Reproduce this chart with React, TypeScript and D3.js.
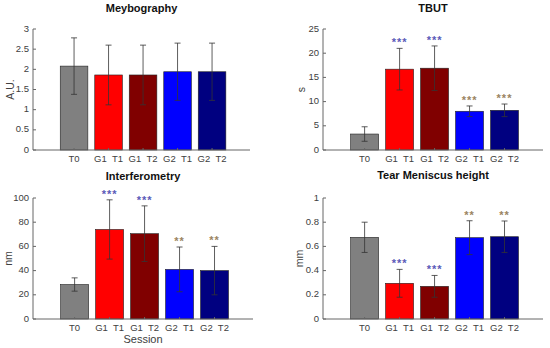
import React from "react";
import * as d3 from "d3";

const categories = ["T0", "G1  T1", "G1  T2", "G2  T1", "G2  T2"];
const barColors = ["#808080", "#ff0000", "#800000", "#0000ff", "#000080"];

const meyMean = [2.08, 1.86, 1.86, 1.94, 1.94];
const meyErr = [0.7, 0.74, 0.74, 0.71, 0.71];
const meyStars = ["", "", "", "", ""];

const tbutMean = [3.3, 16.7, 16.9, 8.0, 8.2];
const tbutErr = [1.5, 4.3, 4.6, 1.1, 1.3];
const tbutStars = ["", "***", "***", "***", "***"];

const interMean = [28.5, 74, 70.5, 41, 40];
const interErr = [5.5, 24.5, 23, 18.5, 20];
const interStars = ["", "***", "***", "**", "**"];

const tearMean = [0.675, 0.295, 0.27, 0.672, 0.68];
const tearErr = [0.125, 0.115, 0.09, 0.14, 0.13];
const tearStars = ["", "***", "***", "**", "**"];

const meyTicks = [0, 0.5, 1, 1.5, 2, 2.5, 3];
const tbutTicks = [0, 5, 10, 15, 20, 25];
const interTicks = [0, 20, 40, 60, 80, 100];
const tearTicks = [0, 0.2, 0.4, 0.6, 0.8, 1];

const starColors = ["", "#5a5ab8", "#5a5ab8", "#9a8462", "#9a8462"];

type PanelProps = {
  title: string;
  ylabel: string;
  mean: number[];
  err: number[];
  stars: string[];
  ticks: number[];
  ymax: number;
  left: number;
  width: number;
  top: number;
  bottom: number;
  titleY: number;
  ylabelX: number;
  xlabel?: string;
};

const font = "'Liberation Sans', Arial, Helvetica, sans-serif";

function Panel(p: PanelProps) {
  const x = d3.scaleLinear().domain([-0.19, 6.1]).range([p.left, p.left + p.width]);
  const y = d3.scaleLinear().domain([0, p.ymax]).range([p.bottom, p.top]);
  const bw = x(0.8) - x(0);
  const cap = 3;
  const axisColor = "#666";
  const textColor = "#404040";
  return (
    <g>
      <text
        x={(p.left + p.left + p.width) / 2}
        y={p.titleY}
        textAnchor="middle"
        dominantBaseline="middle"
        fontFamily={font}
        fontWeight="bold"
        fontSize={11}
        fill="#111"
      >
        {p.title}
      </text>
      <text
        transform={`translate(${p.ylabelX},${(p.top + p.bottom) / 2}) rotate(-90)`}
        textAnchor="middle"
        dominantBaseline="middle"
        fontFamily={font}
        fontSize={10.5}
        fill={textColor}
      >
        {p.ylabel}
      </text>
      {p.mean.map((m, i) => (
        <rect
          key={"b" + i}
          x={x(i + 1) - bw / 2}
          y={y(m)}
          width={bw}
          height={y(0) - y(m)}
          fill={barColors[i]}
          stroke="#222"
          strokeWidth={0.6}
        />
      ))}
      {p.mean.map((m, i) => {
        const cx = x(i + 1);
        const hi = y(m + p.err[i]);
        const lo = y(m - p.err[i]);
        return (
          <g key={"e" + i} stroke="#333" strokeWidth={0.8}>
            <line x1={cx} x2={cx} y1={hi} y2={lo} />
            <line x1={cx - cap} x2={cx + cap} y1={hi} y2={hi} />
            <line x1={cx - cap} x2={cx + cap} y1={lo} y2={lo} />
          </g>
        );
      })}
      {p.stars.map((s, i) =>
        s ? (
          <text
            key={"s" + i}
            x={x(i + 1)}
            y={y(p.mean[i] + p.err[i]) - 2}
            textAnchor="middle"
            fontFamily={font}
            fontSize={11}
            fontWeight="bold"
            fill={starColors[i]}
            letterSpacing={1}
          >
            {s}
          </text>
        ) : null
      )}
      <line x1={p.left} x2={p.left} y1={p.bottom} y2={p.top} stroke={axisColor} strokeWidth={1} />
      <line x1={p.left} x2={p.left + p.width} y1={p.bottom} y2={p.bottom} stroke={axisColor} strokeWidth={1} />
      {p.ticks.map((t) => (
        <g key={"t" + t}>
          <line x1={p.left} x2={p.left + 3} y1={y(t)} y2={y(t)} stroke={axisColor} />
          <text
            x={p.left - 4}
            y={y(t)}
            textAnchor="end"
            dominantBaseline="middle"
            fontFamily={font}
            fontSize={9.5}
            fill={textColor}
          >
            {String(t)}
          </text>
        </g>
      ))}
      {categories.map((c, i) => (
        <g key={"c" + i}>
          <line x1={x(i + 1)} x2={x(i + 1)} y1={p.bottom} y2={p.bottom - 2} stroke={axisColor} />
          <text
            x={x(i + 1)}
            y={p.bottom + 9}
            textAnchor="middle"
            dominantBaseline="middle"
            fontFamily={font}
            fontSize={9.5}
            fill={textColor}
            style={{ whiteSpace: "pre" }}
          >
            {c}
          </text>
        </g>
      ))}
      {p.xlabel ? (
        <text
          x={p.left + 110}
          y={p.bottom + 21}
          textAnchor="middle"
          dominantBaseline="middle"
          fontFamily={font}
          fontSize={11}
          fill={textColor}
        >
          {p.xlabel}
        </text>
      ) : null}
    </g>
  );
}

export default function App() {
  return (
    <svg
      width={550}
      height={348}
      style={{ position: "absolute", left: 0, top: 0, background: "#fff" }}
    >
      <rect width={550} height={348} fill="#fff" />
      <Panel title="Meybography" ylabel="A.U." mean={meyMean} err={meyErr} stars={meyStars}
        ticks={meyTicks} ymax={3} left={33} width={217} top={29} bottom={150} titleY={9} ylabelX={11} />
      <Panel title="TBUT" ylabel="s" mean={tbutMean} err={tbutErr} stars={tbutStars}
        ticks={tbutTicks} ymax={25} left={323} width={220} top={29} bottom={150} titleY={9} ylabelX={302} />
      <Panel title="Interferometry" ylabel="nm" mean={interMean} err={interErr} stars={interStars}
        ticks={interTicks} ymax={100} left={33} width={220} top={198} bottom={319} titleY={177} ylabelX={9} xlabel="Session" />
      <Panel title="Tear Meniscus height" ylabel="mm" mean={tearMean} err={tearErr} stars={tearStars}
        ticks={tearTicks} ymax={1} left={323} width={220} top={198} bottom={319} titleY={176} ylabelX={300} />
    </svg>
  );
}
